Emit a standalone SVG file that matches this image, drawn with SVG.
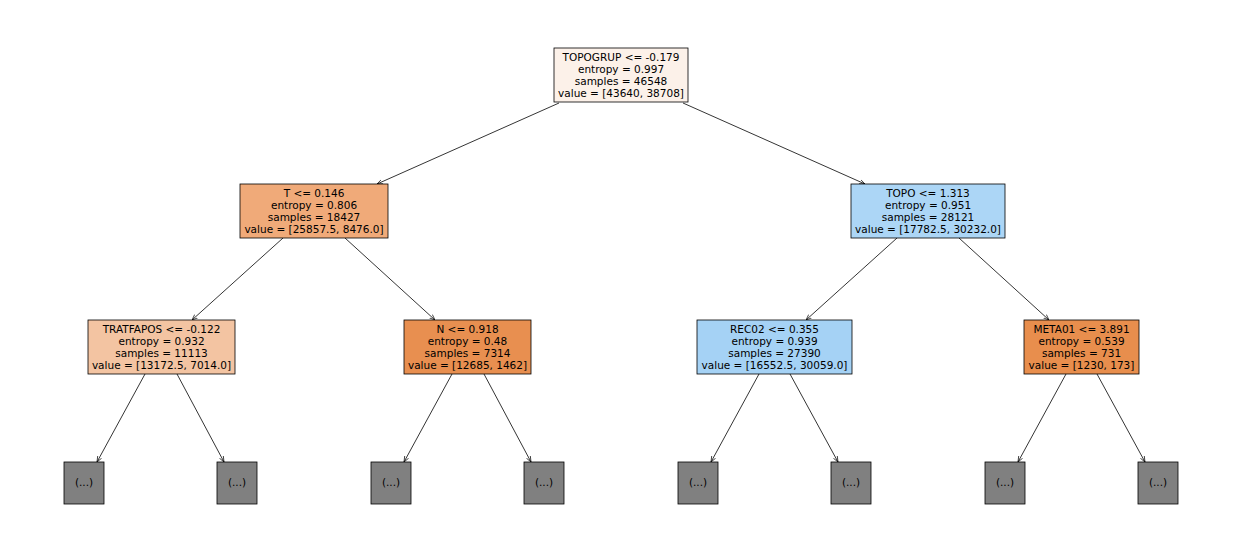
<svg xmlns="http://www.w3.org/2000/svg" width="1242" height="558" viewBox="0 0 1242 558">
<style>
rect{stroke:#000;stroke-width:0.8}
text{font-family:"DejaVu Sans",sans-serif;font-size:10.5px;text-anchor:middle;fill:#000}
.e line{stroke:#000;stroke-width:0.8;marker-end:url(#a)}
.leaf rect{fill:#808080}
</style>
<defs><marker id="a" viewBox="0 0 10 10" refX="10" refY="5" markerWidth="7" markerHeight="7" orient="auto"><path d="M0,1 L10,5 L0,9" fill="none" stroke="#000" stroke-width="1.2"/></marker></defs>
<rect x="0" y="0" width="1242" height="558" fill="#fff" style="stroke:none"/>
<g class="e">
<line x1="559" y1="103" x2="377" y2="184"/><line x1="683" y1="103" x2="865" y2="184"/>
<line x1="283" y1="238" x2="192" y2="320"/><line x1="345" y1="238" x2="435" y2="320"/>
<line x1="897" y1="238" x2="806" y2="320"/><line x1="959" y1="238" x2="1049" y2="320"/>
<line x1="145" y1="374" x2="97" y2="462"/><line x1="177" y1="374" x2="224" y2="462"/>
<line x1="452" y1="374" x2="404" y2="462"/><line x1="484" y1="374" x2="531" y2="462"/>
<line x1="759" y1="374" x2="711" y2="462"/><line x1="790" y1="374" x2="838" y2="462"/>
<line x1="1066" y1="374" x2="1018" y2="462"/><line x1="1097" y1="374" x2="1145" y2="462"/>
</g>
<g id="root"><rect x="554" y="48" width="134" height="54" fill="#fcf1e9"/><text x="621" y="61">TOPOGRUP &lt;= -0.179</text><text x="621" y="73">entropy = 0.997</text><text x="621" y="85">samples = 46548</text><text x="621" y="97">value = [43640, 38708]</text></g>
<g id="t"><rect x="240" y="184" width="148" height="54" fill="#f0aa79"/><text x="314" y="197">T &lt;= 0.146</text><text x="314" y="209">entropy = 0.806</text><text x="314" y="221">samples = 18427</text><text x="314" y="233">value = [25857.5, 8476.0]</text></g>
<g id="topo"><rect x="851" y="184" width="154" height="54" fill="#acd6f6"/><text x="928" y="197">TOPO &lt;= 1.313</text><text x="928" y="209">entropy = 0.951</text><text x="928" y="221">samples = 28121</text><text x="928" y="233">value = [17782.5, 30232.0]</text></g>
<g id="tratfapos"><rect x="88" y="320" width="147" height="54" fill="#f3c4a2"/><text x="161.5" y="333">TRATFAPOS &lt;= -0.122</text><text x="161.5" y="345">entropy = 0.932</text><text x="161.5" y="357">samples = 11113</text><text x="161.5" y="369">value = [13172.5, 7014.0]</text></g>
<g id="n"><rect x="404" y="320" width="127" height="54" fill="#e88f50"/><text x="467.5" y="333">N &lt;= 0.918</text><text x="467.5" y="345">entropy = 0.48</text><text x="467.5" y="357">samples = 7314</text><text x="467.5" y="369">value = [12685, 1462]</text></g>
<g id="rec02"><rect x="697" y="320" width="155" height="54" fill="#a5d2f5"/><text x="774.5" y="333">REC02 &lt;= 0.355</text><text x="774.5" y="345">entropy = 0.939</text><text x="774.5" y="357">samples = 27390</text><text x="774.5" y="369">value = [16552.5, 30059.0]</text></g>
<g id="meta01"><rect x="1024" y="320" width="115" height="54" fill="#e88e4d"/><text x="1081.5" y="333">META01 &lt;= 3.891</text><text x="1081.5" y="345">entropy = 0.539</text><text x="1081.5" y="357">samples = 731</text><text x="1081.5" y="369">value = [1230, 173]</text></g>
<g id="l1" class="leaf"><rect x="64" y="462" width="40" height="42"/><text x="84" y="486">(...)</text></g>
<g id="l2" class="leaf"><rect x="217" y="462" width="40" height="42"/><text x="237" y="486">(...)</text></g>
<g id="l3" class="leaf"><rect x="371" y="462" width="40" height="42"/><text x="391" y="486">(...)</text></g>
<g id="l4" class="leaf"><rect x="524" y="462" width="40" height="42"/><text x="544" y="486">(...)</text></g>
<g id="l5" class="leaf"><rect x="678" y="462" width="40" height="42"/><text x="698" y="486">(...)</text></g>
<g id="l6" class="leaf"><rect x="831" y="462" width="40" height="42"/><text x="851" y="486">(...)</text></g>
<g id="l7" class="leaf"><rect x="985" y="462" width="40" height="42"/><text x="1005" y="486">(...)</text></g>
<g id="l8" class="leaf"><rect x="1138" y="462" width="40" height="42"/><text x="1158" y="486">(...)</text></g>
</svg>
